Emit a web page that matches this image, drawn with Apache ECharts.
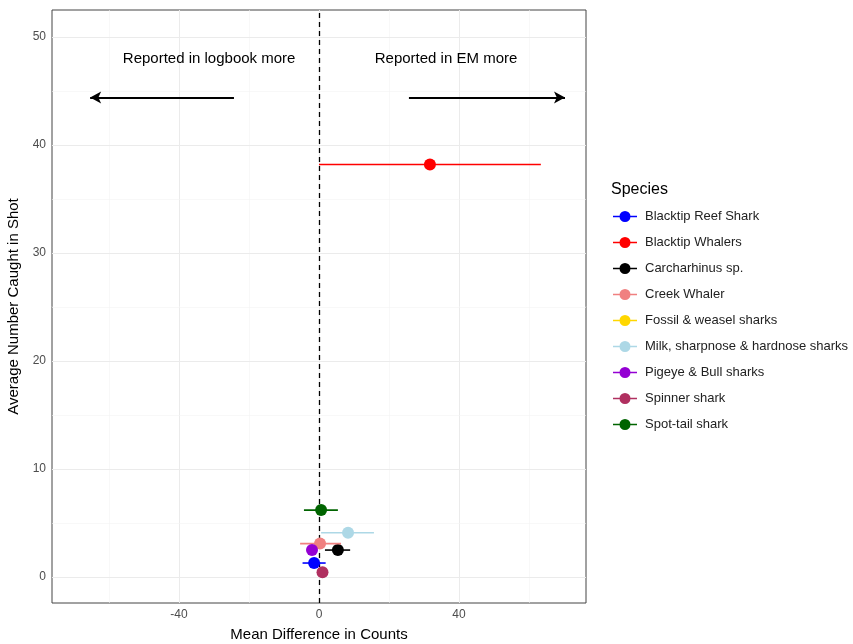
<!DOCTYPE html>
<html>
<head>
<meta charset="utf-8">
<script src="https://cdn.jsdelivr.net/npm/echarts@6/dist/echarts.min.js"></script>
<style>
  html, body { margin: 0; padding: 0; background: #fff; }
  #chart { width: 853px; height: 644px; }
</style>
</head>
<body>
<div id="chart"></div>
<script>
// data
var species = ['Blacktip Reef Shark', 'Blacktip Whalers', 'Carcharhinus sp.', 'Creek Whaler',
  'Fossil & weasel sharks', 'Milk, sharpnose & hardnose sharks', 'Pigeye & Bull sharks',
  'Spinner shark', 'Spot-tail shark'];
var colors = ['#0000FF', '#FF0000', '#000000', '#F08080', '#FFD700', '#ADD8E6', '#9400D3', '#B03060', '#006400'];
var meanDiff = [-1.4, 31.7, 5.4, 0.3, null, 8.3, -2.0, 1.0, 0.6];
var lowDiff = [-4.7, 0.0, 1.7, -5.4, null, 0.6, -3.0, 0.3, -4.3];
var highDiff = [1.9, 63.4, 8.9, 6.3, null, 15.7, -1.0, 1.7, 5.4];
var avgCaught = [1.3, 38.2, 2.5, 3.1, null, 4.1, 2.5, 0.45, 6.2];

var xTicks = [-40, 0, 40];
var xMinor = [-60, -20, 20, 60];
var yTicks = [0, 10, 20, 30, 40, 50];
var yMinor = [5, 15, 25, 35, 45];

// annotation arrows and texts
var arrowY = 44.4;
var leftArrow = [-24.3, -65.4];
var rightArrow = [25.7, 70.3];
var noteY = 48;
var noteX = [-31.4, 36.3];
var noteText = ['Reported in logbook more', 'Reported in EM more'];

var chart = echarts.init(document.getElementById('chart'));

var gridLines = [];
xTicks.forEach(function (v) { gridLines.push({ xAxis: v, lineStyle: { color: '#ebebeb', width: 1, type: 'solid' } }); });
xMinor.forEach(function (v) { gridLines.push({ xAxis: v, lineStyle: { color: '#f3f3f3', width: 0.6, type: 'solid' } }); });
yTicks.forEach(function (v) { gridLines.push({ yAxis: v, lineStyle: { color: '#ebebeb', width: 1, type: 'solid' } }); });
yMinor.forEach(function (v) { gridLines.push({ yAxis: v, lineStyle: { color: '#f3f3f3', width: 0.6, type: 'solid' } }); });

var series = [{
  name: 'helper',
  type: 'scatter',
  data: [],
  z: 1,
  silent: true,
  markLine: {
    silent: true,
    symbol: 'none',
    label: { show: false },
    animation: false,
    data: gridLines.concat([
      { xAxis: 0, lineStyle: { color: '#000', width: 1.3, type: [5, 4] } },
      [{ coord: [leftArrow[0], arrowY], symbol: 'none' },
       { coord: [leftArrow[1], arrowY], symbol: 'arrow', symbolSize: [9, 11], lineStyle: { color: '#000', width: 2, type: 'solid' } }],
      [{ coord: [rightArrow[0], arrowY], symbol: 'none' },
       { coord: [rightArrow[1], arrowY], symbol: 'arrow', symbolSize: [9, 11], lineStyle: { color: '#000', width: 2, type: 'solid' } }]
    ])
  }
}, {
  name: 'notes',
  type: 'custom',
  z: 10,
  silent: true,
  encode: { x: 0, y: 1 },
  data: noteX.map(function (x, i) { return [x, noteY, i]; }),
  renderItem: function (params, api) {
    var p = api.coord([api.value(0), api.value(1)]);
    return {
      type: 'text',
      x: p[0],
      y: p[1],
      style: {
        text: noteText[api.value(2)],
        fill: '#000',
        font: '15px "Liberation Sans"',
        align: 'center',
        verticalAlign: 'middle'
      }
    };
  }
}];

species.forEach(function (name, i) {
  var d = meanDiff[i] == null ? [] : [[lowDiff[i], highDiff[i], meanDiff[i], avgCaught[i]]];
  series.push({
    name: name,
    type: 'custom',
    z: 5,
    itemStyle: { color: colors[i] },
    encode: { x: [0, 1, 2], y: 3 },
    data: d,
    renderItem: function (params, api) {
      var lo = api.coord([api.value(0), api.value(3)]);
      var hi = api.coord([api.value(1), api.value(3)]);
      var c = api.coord([api.value(2), api.value(3)]);
      return {
        type: 'group',
        children: [
          { type: 'line', shape: { x1: lo[0], y1: lo[1], x2: hi[0], y2: hi[1] }, style: { stroke: colors[i], lineWidth: 1.6 } },
          { type: 'circle', shape: { cx: c[0], cy: c[1], r: 6 }, style: { fill: colors[i] } }
        ]
      };
    }
  });
});

var option = {
  animation: false,
  backgroundColor: '#fff',
  title: {
    text: 'Species',
    left: 606,
    top: 177,
    textStyle: { fontSize: 16, fontWeight: 'normal', color: '#000', fontFamily: 'Liberation Sans' }
  },
  legend: {
    orient: 'vertical',
    left: 608,
    top: 205,
    itemWidth: 24,
    itemHeight: 11,
    itemGap: 13,
    icon: 'path://M0,4.7H24V6.3H0Z M6.5,5.5a5.5,5.5 0 1,1 11,0a5.5,5.5 0 1,1 -11,0Z',
    textStyle: { fontSize: 13, color: '#222', fontFamily: 'Liberation Sans', padding: [0, 0, 0, 3] },
    data: species
  },
  grid: {
    left: 52,
    right: 267,
    top: 10,
    bottom: 41,
    outerBoundsMode: 'none',
    show: true,
    borderColor: '#444',
    borderWidth: 1
  },
  xAxis: {
    type: 'value',
    min: -76.3,
    max: 76.3,
    name: 'Mean Difference in Counts',
    nameLocation: 'middle',
    nameGap: 24,
    nameTextStyle: { fontSize: 15, color: '#000', fontFamily: 'Liberation Sans' },
    axisLine: { show: false },
    splitLine: { show: false },
    axisTick: { show: true, length: 4, customValues: xTicks, lineStyle: { color: '#444' } },
    axisLabel: { customValues: xTicks, fontSize: 12, color: '#4d4d4d', margin: 6, fontFamily: 'Liberation Sans' }
  },
  yAxis: {
    type: 'value',
    min: -2.4,
    max: 52.5,
    name: 'Average Number Caught in Shot',
    nameLocation: 'middle',
    nameGap: 17,
    nameTextStyle: { fontSize: 15, color: '#000', fontFamily: 'Liberation Sans' },
    axisLine: { show: false },
    splitLine: { show: false },
    axisTick: { show: true, length: 4, customValues: yTicks, lineStyle: { color: '#444' } },
    axisLabel: { customValues: yTicks, fontSize: 12, color: '#4d4d4d', margin: 6, fontFamily: 'Liberation Sans' }
  },
  series: series
};

chart.setOption(option);
</script>
</body>
</html>
